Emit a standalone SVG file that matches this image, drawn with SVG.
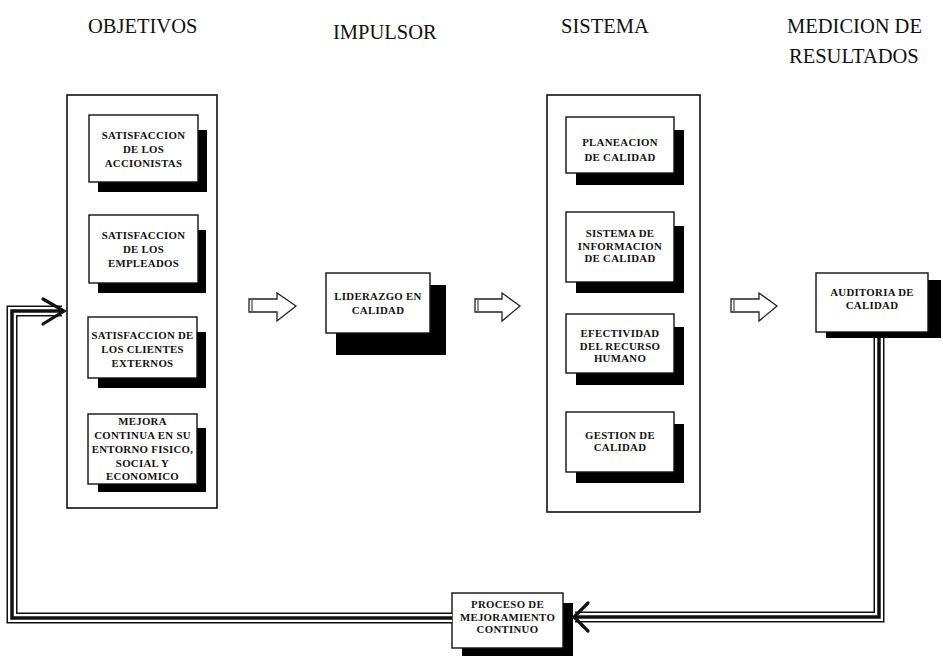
<svg xmlns="http://www.w3.org/2000/svg" width="943" height="656" viewBox="0 0 943 656">
<defs>
<style>
.hdr{font-family:"Liberation Serif","Times New Roman",serif;font-size:20.5px;fill:#111}
.bt{font-family:"Liberation Serif","Times New Roman",serif;font-size:10.8px;font-weight:bold;fill:#111;text-anchor:middle;letter-spacing:0.3px}
.frame{fill:#fff;stroke:#111;stroke-width:1.6}
.box{fill:#fff;stroke:#111;stroke-width:1.4}
.sh{fill:#000}
.o1{fill:none;stroke:#111;stroke-width:11}
.o2{fill:none;stroke:#fff;stroke-width:8}
.o3{fill:none;stroke:#111;stroke-width:3.5}
.bar{fill:#fff;stroke:#222;stroke-width:1.3;stroke-linejoin:miter}
.chev{fill:none;stroke:#111;stroke-width:3.2;stroke-linecap:round;stroke-linejoin:miter}
</style>
</defs>
<rect width="943" height="656" fill="#fff"/>

<g id="headers">
<text class="hdr" x="88" y="33">OBJETIVOS</text>
<text class="hdr" x="333" y="39">IMPULSOR</text>
<text class="hdr" x="561" y="33">SISTEMA</text>
<text class="hdr" x="787" y="33">MEDICION DE</text>
<text class="hdr" x="789" y="63">RESULTADOS</text>
</g>

<g id="frame-objetivos"><rect class="frame" x="67" y="95" width="150" height="413"/></g>
<g id="frame-sistema"><rect class="frame" x="547" y="95" width="153" height="417"/></g>

<g id="n-accionistas">
<rect class="sh" x="98" y="130" width="109" height="62"/>
<rect class="box" x="89" y="115" width="109" height="67"/>
<text class="bt" x="143.5" y="139">SATISFACCION</text>
<text class="bt" x="143.5" y="153">DE LOS</text>
<text class="bt" x="143.5" y="167">ACCIONISTAS</text>
</g>
<g id="n-empleados">
<rect class="sh" x="98" y="230" width="108" height="63"/>
<rect class="box" x="89" y="215" width="109" height="68"/>
<text class="bt" x="143.5" y="239">SATISFACCION</text>
<text class="bt" x="143.5" y="253">DE LOS</text>
<text class="bt" x="143.5" y="267">EMPLEADOS</text>
</g>
<g id="n-clientes">
<rect class="sh" x="98" y="332" width="108" height="56"/>
<rect class="box" x="88" y="317" width="109" height="61"/>
<text class="bt" x="142.5" y="339">SATISFACCION DE</text>
<text class="bt" x="142.5" y="353">LOS CLIENTES</text>
<text class="bt" x="142.5" y="367">EXTERNOS</text>
</g>
<g id="n-mejora">
<rect class="sh" x="98" y="428" width="108" height="64"/>
<rect class="box" x="88" y="414" width="109" height="70"/>
<text class="bt" x="142.5" y="425">MEJORA</text>
<text class="bt" x="142.5" y="439">CONTINUA EN SU</text>
<text class="bt" x="142.5" y="453">ENTORNO FISICO,</text>
<text class="bt" x="142.5" y="467">SOCIAL Y</text>
<text class="bt" x="142.5" y="480">ECONOMICO</text>
</g>

<g id="n-liderazgo">
<rect class="sh" x="336" y="285" width="110" height="70"/>
<rect class="box" x="326" y="273" width="104" height="60"/>
<text class="bt" x="378" y="300">LIDERAZGO EN</text>
<text class="bt" x="378" y="314">CALIDAD</text>
</g>

<g id="n-planeacion">
<rect class="sh" x="576" y="130" width="108" height="55"/>
<rect class="box" x="566" y="117" width="108" height="56"/>
<text class="bt" x="620" y="146">PLANEACION</text>
<text class="bt" x="620" y="161">DE CALIDAD</text>
</g>
<g id="n-informacion">
<rect class="sh" x="576" y="226" width="108" height="67"/>
<rect class="box" x="566" y="212" width="108" height="70"/>
<text class="bt" x="620" y="237">SISTEMA DE</text>
<text class="bt" x="620" y="250">INFORMACION</text>
<text class="bt" x="620" y="262">DE CALIDAD</text>
</g>
<g id="n-efectividad">
<rect class="sh" x="576" y="327" width="108" height="58"/>
<rect class="box" x="566" y="314" width="108" height="59"/>
<text class="bt" x="620" y="337">EFECTIVIDAD</text>
<text class="bt" x="620" y="350">DEL RECURSO</text>
<text class="bt" x="620" y="362">HUMANO</text>
</g>
<g id="n-gestion">
<rect class="sh" x="576" y="424" width="108" height="59"/>
<rect class="box" x="566" y="412" width="108" height="60"/>
<text class="bt" x="620" y="439">GESTION DE</text>
<text class="bt" x="620" y="451">CALIDAD</text>
</g>

<g id="n-auditoria">
<rect class="sh" x="826" y="280" width="115" height="58"/>
<rect class="box" x="816" y="273" width="112" height="59"/>
<text class="bt" x="872" y="296">AUDITORIA DE</text>
<text class="bt" x="872" y="309">CALIDAD</text>
</g>

<g id="n-proceso">
<rect class="sh" x="462" y="603" width="111" height="53"/>
<rect class="box" x="452" y="593" width="111" height="55"/>
<text class="bt" x="507.5" y="608">PROCESO DE</text>
<text class="bt" x="507.5" y="621">MEJORAMIENTO</text>
<text class="bt" x="507.5" y="633">CONTINUO</text>
</g>

<g id="connectors">
<g id="arrow1">
<polygon class="bar" points="249,299 277,299 277,293 296,306 277,321 277,312 249,312"/>
<line x1="252" y1="300" x2="252" y2="311" stroke="#222" stroke-width="1"/>
</g>
<g id="arrow2">
<polygon class="bar" points="475,299 502,299 502,293 520,306 502,321 502,312 475,312"/>
<line x1="478" y1="300" x2="478" y2="311" stroke="#222" stroke-width="1"/>
</g>
<g id="arrow3">
<polygon class="bar" points="731,299 759,299 759,293 777,306 759,321 759,312 731,312"/>
<line x1="734" y1="300" x2="734" y2="311" stroke="#222" stroke-width="1"/>
</g>

<g id="loop-right">
<path class="o1" d="M879,338 V617 H575"/>
<path class="o2" d="M879,338 V617 H575"/>
<path class="o3" d="M879,338 V617 H575"/>
<polyline class="chev" points="588,603 574,617 588,631"/>
</g>
<g id="loop-left">
<path class="o1" d="M452,618 H12 V311 H62"/>
<path class="o2" d="M452,618 H12 V311 H62"/>
<path class="o3" d="M452,618 H12 V311 H63"/>
<polyline class="chev" points="43,299 64,311 43,324"/>
</g>
</g>
</svg>
